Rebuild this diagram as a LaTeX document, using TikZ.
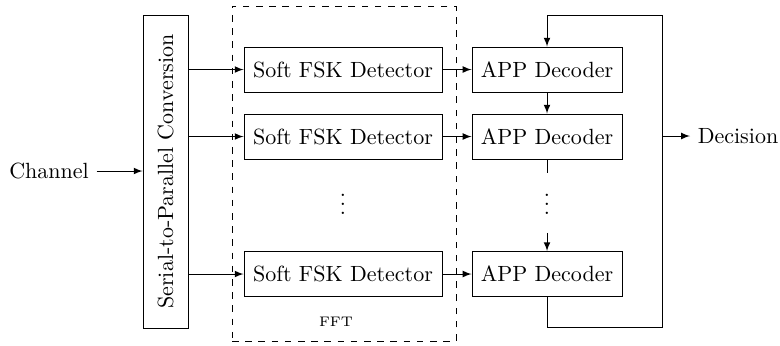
\documentclass[tikz,border=0pt]{standalone}
\usepackage{graphicx}
\begin{document}
\begin{tikzpicture}[x=0.4545pt,y=-0.4545pt,
  box/.style={draw,minimum height=20.45pt,inner sep=0pt},
  detbox/.style={box,minimum width=90pt},
  decbox/.style={box,minimum width=68.2pt},
  arr/.style={->,>=latex},
  dotsnode/.style={anchor=base,text depth=5pt}]
\useasboundingbox (0,0) rectangle (780,345);
% input
\node (chan) at (49,171) {Channel};
\node[draw,minimum width=20.45pt,minimum height=142.3pt,inner sep=0pt] (sp) at (165.5,171.5)
  {\rotatebox{90}{Serial-to-Parallel Conversion}};
\draw[arr] (chan.east) -- (chan.east -| sp.west);
% FFT region
\node[draw,dashed,minimum width=101.8pt,minimum height=152.3pt,inner sep=0pt] (fft) at (344,173.5) {};
\node[font=\fontsize{6.3}{7}\selectfont] (fftlabel) at (336,322) {FFT};
% detectors
\node[detbox] (det1) at (343,69.5) {Soft FSK Detector};
\node[detbox] (det2) at (343,136.5) {Soft FSK Detector};
\node[detbox] (det3) at (343,274) {Soft FSK Detector};
\node[dotsnode] (ddots) at (343,214) {$\vdots$};
% decoders
\node[decbox] (dec1) at (547,69.5) {APP Decoder};
\node[decbox] (dec2) at (547,136.5) {APP Decoder};
\node[decbox] (dec3) at (547,274) {APP Decoder};
\node[dotsnode] (cdots) at (547,214) {$\vdots$};
% connections
\foreach \i in {1,2,3}{
  \draw[arr] (sp.east |- det\i.west) -- (det\i.west);
  \draw[arr] (det\i.east) -- (dec\i.west);
}
\draw[arr] (dec1.south) -- (dec2.north);
\draw (dec2.south) -- (cdots.north);
\draw[arr] (cdots.south) -- (dec3.north);
% feedback loop
\coordinate (br) at (662,327);
\coordinate (tr) at (662,15);
\coordinate (dj) at (662,136);
\draw[arr] (dec3.south) |- (br) -- (tr) -| (dec1.north);
\node (dec) at (738,136) {Decision};
\draw[arr] (dj) -- (dec.west);
\end{tikzpicture}
\end{document}
